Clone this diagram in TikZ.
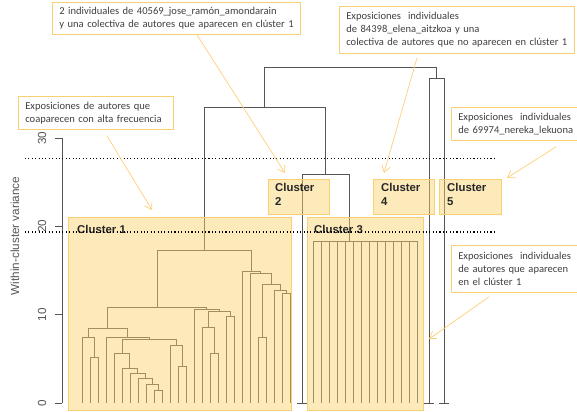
\documentclass[tikz,border=0pt]{standalone}
\usepackage{fontspec}
\setmainfont{Carlito}
\newfontfamily\arialfont{Liberation Sans}
\usetikzlibrary{positioning, arrows.meta}
\definecolor{bordecaja}{RGB}{250,208,112}
\definecolor{amarillo}{RGB}{250,210,110}
\definecolor{flechanota}{RGB}{253,208,120}
\definecolor{textonota}{RGB}{64,64,64}
\definecolor{gris}{RGB}{85,85,85}
\tikzset{
    >={Straight Barb[length=2mm, width=2.6mm]}, % punta abierta de las flechas
    rama/.style={draw=gris, line width=0.6pt}, % lineas del dendrograma
    eje/.style={draw=gris, line width=0.6pt},
    marca/.style={text=gris, font=\arialfont\fontsize{10}{12}\selectfont, inner sep=0pt},
    cluster/.style={draw=bordecaja, line width=0.8pt, fill=amarillo, fill opacity=0.47, inner sep=0pt}, % cajas de los clusters
    etiqueta/.style={text=black!85, font=\arialfont\bfseries\fontsize{9.7}{12}\selectfont, inner sep=0pt, align=left},
    corte/.style={draw=black, dotted, line width=0.9pt}, % lineas de corte
    nota/.style={draw=bordecaja, fill=white, line width=0.6pt, text=textonota, align=left, inner xsep=2.2mm, inner ysep=0pt, font=\fontsize{9}{11.2}\selectfont},
    flecha/.style={->, draw=flechanota, line width=0.6pt}
}

\begin{document}
\begin{tikzpicture}[x=0.3mm, y=-0.3mm]
    \useasboundingbox (0,0) rectangle (577,411);

    % Eje
    \draw[eje] (62,138) -- (62,403);
    \foreach \v/\y in {0/403, 10/314.7, 20/226.3, 30/138}{
        \draw[eje] (55,\y) -- (62,\y);
        \node[marca, rotate=90](m\v) at (42,\y) {\v};
    }
    \node[marca, rotate=90](titulo) at (15,236) {Within-cluster variance};

    % Dendrograma
    \foreach \xa/\ya/\xb/\yb/\h in {90/403/98/403/357, 82/403/94/357/337,
        154/403/162/403/390, 146/403/158/390/384, 138/403/152/384/378,
        130/403/145/378/373, 122/403/137.5/373/368, 114/403/129.75/368/353,
        178/403/186/403/366, 170/403/182/366/345, 121.9/353/176/345/339,
        106/403/149/339/337, 88/337/127.5/337/328,
        210/403/218/403/353, 202/403/214/353/327, 226/403/234/403/316,
        208/327/230/316/311, 194/403/219/311/309, 107.75/328/206.5/309/307,
        282/403/290/403/293, 274/403/286/293/290, 258/403/266/403/337,
        262/337/280/290/284, 250/403/271/284/273, 242/403/260.5/273/271.5,
        157.1/307/251.25/271.5/250,
        302/403/349/241/174, 204.2/250/325.5/174/107,
        429/403/444/403/78, 264.8/107/436.5/78/67}
        \draw[rama] (\xa,\ya) |- (\xb,\h) -- (\xb,\yb);
    \draw[rama] (313,241) -- (417,241);
    \foreach \x in {313,321,...,417}
        \draw[rama] (\x,241) -- (\x,403);
    \foreach \x in {302,429,444}
        \draw[rama] (\x-5,403) -- (\x+5,403);

    % Clusters
    \node[cluster, minimum width=66.9mm, minimum height=57.9mm](C1) at (179.5,313.5) {};
    \node[cluster, minimum width=34.8mm, minimum height=57.9mm](C3) at (365,313.5) {};
    \node[cluster, minimum width=18.3mm, minimum height=10.5mm](C2) at (298.5,196.5) {};
    \node[cluster, minimum width=18.3mm, minimum height=10.5mm](C4) at (403.5,196.5) {};
    \node[cluster, minimum width=18.6mm, minimum height=10.5mm](C5) at (470,196.5) {};
    \node[etiqueta, anchor=west](eC1) at (77,229) {Cluster 1};
    \node[etiqueta, anchor=west](eC3) at (314,229) {Cluster 3};
    \node[etiqueta, anchor=north west](eC2) at (275,183) {Cluster\\2};
    \node[etiqueta, anchor=north west](eC4) at (381,183) {Cluster\\4};
    \node[etiqueta, anchor=north west](eC5) at (447,183) {Cluster\\5};

    % Cortes
    \draw[corte] (25,158.5) -- (494,158.5);
    \draw[corte] (25,232) -- (494,232);

    % Notas
    \node[nota, text width=70mm, minimum height=9.6mm](notaA) at (176,18.5) {2 individuales de 40569\_jose\_ramón\_amondarain\\\mbox{y una colectiva de autores que aparecen en clúster 1}};
    \node[nota, text width=42.1mm, minimum height=9.9mm](notaB) at (95.5,113) {Exposiciones de autores que\\coaparecen con alta frecuencia};
    \node[nota, text width=66.1mm, minimum height=14.1mm](notaC) at (456.5,30) {Exposiciones~ individuales\\de 84398\_elena\_aitzkoa y una\\\mbox{colectiva de autores que no aparecen en clúster 1}};
    \node[nota, text width=37.3mm, minimum height=9.9mm](notaD) at (520.5,124) {Exposiciones~ individuales\\de 69974\_nereka\_lekuona};
    \node[nota, text width=37.3mm, minimum height=14.1mm](notaE) at (520.5,269) {Exposiciones~ individuales\\de autores que aparecen\\en el clúster 1};

    % Flechas
    \coordinate (puntaA) at (285,173);
    \coordinate (puntaB) at (152,210);
    \coordinate (puntaC) at (384,173);
    \coordinate (puntaD) at (507,178);
    \coordinate (puntaE) at (429,339);
    \draw[flecha] ([xshift=6.3mm]notaA.south) -- (puntaA);
    \draw[flecha] ([xshift=3.45mm, yshift=-1.8mm]notaB.south) -- (puntaB);
    \draw[flecha] ([xshift=-11.85mm, yshift=-1.2mm]notaC.south) -- (puntaC);
    \draw[flecha] ([xshift=10.65mm, yshift=-1.8mm]notaD.south) -- (puntaD);
    \draw[flecha] ([xshift=-9.45mm, yshift=-1.2mm]notaE.south) -- (puntaE);
\end{tikzpicture}
\end{document}
